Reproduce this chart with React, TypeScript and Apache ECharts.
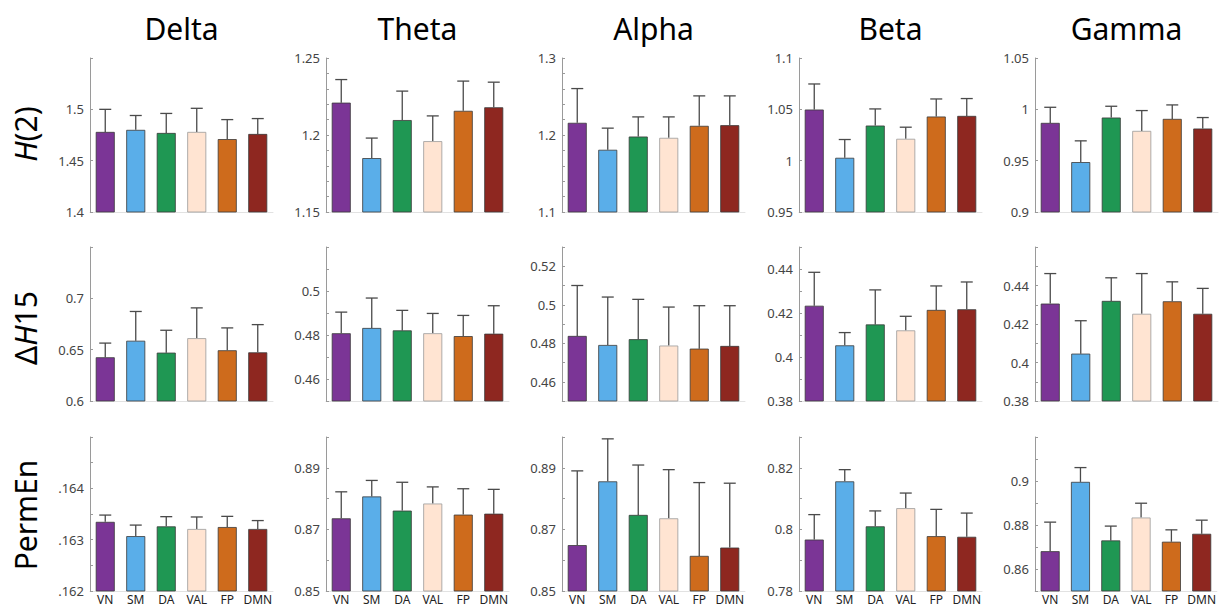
import React, { useEffect, useRef } from 'react';
import * as echarts from 'echarts';

const categories = ['VN', 'SM', 'DA', 'VAL', 'FP', 'DMN'];
const barColors = ['#7B3596', '#5AAEE9', '#1F9753', '#FFE4D2', '#CE6B1C', '#8E2720'];
const barBorders = ['#3a3a3a', '#3a3a3a', '#3a3a3a', '#9a9a9a', '#3a3a3a', '#3a3a3a'];
const bands = ['Delta', 'Theta', 'Alpha', 'Beta', 'Gamma'];

// Row 1: H(2)  (mean, and top of error bar)
const h2Delta = [1.478, 1.480, 1.477, 1.478, 1.471, 1.476];
const h2DeltaTop = [1.500, 1.494, 1.496, 1.501, 1.490, 1.491];
const h2Theta = [1.221, 1.185, 1.2097, 1.196, 1.2157, 1.218];
const h2ThetaTop = [1.236, 1.198, 1.2285, 1.2124, 1.235, 1.2343];
const h2Alpha = [1.2158, 1.1808, 1.198, 1.1963, 1.2119, 1.2127];
const h2AlphaTop = [1.2603, 1.2089, 1.2235, 1.2235, 1.2508, 1.2508];
const h2Beta = [1.0498, 1.0028, 1.0342, 1.0213, 1.043, 1.0436];
const h2BetaTop = [1.0747, 1.0206, 1.0504, 1.0326, 1.0601, 1.0605];
const h2Gamma = [0.9868, 0.9486, 0.992, 0.979, 0.9907, 0.9813];
const h2GammaTop = [1.002, 0.9693, 1.003, 0.9988, 1.0043, 0.992];

// Row 2: ΔH15
const dhDelta = [0.6426, 0.6587, 0.6471, 0.6612, 0.6494, 0.6474];
const dhDeltaTop = [0.6564, 0.6872, 0.6689, 0.6907, 0.6712, 0.6744];
const dhTheta = [0.4808, 0.4832, 0.4821, 0.4808, 0.4795, 0.4806];
const dhThetaTop = [0.4904, 0.4968, 0.4912, 0.4898, 0.4889, 0.4933];
const dhAlpha = [0.4838, 0.4791, 0.4821, 0.4788, 0.4772, 0.4786];
const dhAlphaTop = [0.510, 0.504, 0.5028, 0.4988, 0.4995, 0.4995];
const dhBeta = [0.4233, 0.4053, 0.4148, 0.4121, 0.4214, 0.4217];
const dhBetaTop = [0.4385, 0.4111, 0.4305, 0.4185, 0.4323, 0.4341];
const dhGamma = [0.4306, 0.4046, 0.432, 0.4253, 0.4318, 0.4253];
const dhGammaTop = [0.4462, 0.4217, 0.444, 0.4462, 0.4419, 0.4385];

// Row 3: PermEn
const peDelta = [0.163347, 0.163069, 0.163259, 0.163208, 0.163246, 0.163208];
const peDeltaTop = [0.163479, 0.163284, 0.163448, 0.163442, 0.163454, 0.163372];
const peTheta = [0.8736, 0.8807, 0.8761, 0.8784, 0.8748, 0.8751];
const peThetaTop = [0.8822, 0.8859, 0.8853, 0.8838, 0.8832, 0.883];
const peAlpha = [0.8649, 0.8856, 0.8747, 0.8736, 0.8614, 0.8641];
const peAlphaTop = [0.889, 0.8994, 0.8909, 0.8894, 0.8852, 0.885];
const peBeta = [0.7967, 0.8156, 0.801, 0.8069, 0.7978, 0.7976];
const peBetaTop = [0.8048, 0.8194, 0.806, 0.8118, 0.8065, 0.8053];
const peGamma = [0.8681, 0.8996, 0.873, 0.8834, 0.8724, 0.876];
const peGammaTop = [0.8813, 0.9061, 0.8795, 0.8899, 0.8778, 0.8822];

// axis ranges [min, max, step] and labelled ticks
const h2Ranges = [[1.4, 1.55, 0.05], [1.15, 1.25, 0.01], [1.1, 1.3, 0.02], [0.95, 1.1, 0.05], [0.9, 1.05, 0.05]];
const h2Ticks = [['1.4', '1.45', '1.5'], ['1.15', '1.2', '1.25'], ['1.1', '1.2', '1.3'], ['0.95', '1', '1.05', '1.1'], ['0.9', '0.95', '1', '1.05']];
const dhRanges = [[0.6, 0.75, 0.05], [0.45, 0.52, 0.01], [0.45, 0.53, 0.01], [0.38, 0.45, 0.01], [0.38, 0.46, 0.01]];
const dhTicks = [['0.6', '0.65', '0.7'], ['0.46', '0.48', '0.5'], ['0.46', '0.48', '0.5', '0.52'], ['0.38', '0.4', '0.42', '0.44'], ['0.38', '0.4', '0.42', '0.44']];
const peRanges = [[0.162, 0.165, 0.0005], [0.85, 0.9, 0.01], [0.85, 0.9, 0.01], [0.78, 0.83, 0.01], [0.85, 0.92, 0.01]];
const peTicks = [['.162', '.163', '.164'], ['0.85', '0.87', '0.89'], ['0.85', '0.87', '0.89'], ['0.78', '0.8', '0.82'], ['0.86', '0.88', '0.9']];

const rowLabels = ['{i|H}{n|(2)}', '{n|Δ}{i|H}{n|15}', '{n|PermEn}'];

const rows = [
  { means: [h2Delta, h2Theta, h2Alpha, h2Beta, h2Gamma], tops: [h2DeltaTop, h2ThetaTop, h2AlphaTop, h2BetaTop, h2GammaTop], ranges: h2Ranges, ticks: h2Ticks },
  { means: [dhDelta, dhTheta, dhAlpha, dhBeta, dhGamma], tops: [dhDeltaTop, dhThetaTop, dhAlphaTop, dhBetaTop, dhGammaTop], ranges: dhRanges, ticks: dhTicks },
  { means: [peDelta, peTheta, peAlpha, peBeta, peGamma], tops: [peDeltaTop, peThetaTop, peAlphaTop, peBetaTop, peGammaTop], ranges: peRanges, ticks: peTicks },
];

const colLefts = [90, 326, 562, 799, 1035];
const rowTops = [58, 247, 437];
const gridW = 183;
const gridH = 154;
const FONT = '"Noto Sans", "Open Sans", sans-serif';

export default function App() {
  const ref = useRef<HTMLDivElement>(null);
  useEffect(() => {
    if (!ref.current) return;
    const chart = echarts.init(ref.current, null, { renderer: 'svg' });
    const grid: any[] = [];
    const xAxis: any[] = [];
    const yAxis: any[] = [];
    const series: any[] = [];
    const graphic: any[] = [];
    let k = 0;
    rows.forEach((row, r) => {
      for (let c = 0; c < 5; c++) {
        const [mn, mx, step] = row.ranges[c];
        const labels = row.ticks[c];
        grid.push({ left: colLefts[c], top: rowTops[r], width: gridW, height: gridH, containLabel: false });
        xAxis.push({
          type: 'category', gridIndex: k, data: categories,
          axisLine: { show: true, lineStyle: { color: '#e2e2e2', width: 1 } },
          axisTick: { show: false },
          axisLabel: { show: r === 2, color: '#222', fontSize: 12, fontFamily: FONT, margin: 2, interval: 0 },
          splitLine: { show: false },
        });
        yAxis.push({
          type: 'value', gridIndex: k, min: mn, max: mx, interval: step,
          axisLine: { show: true, lineStyle: { color: '#9a9a9a', width: 1 } },
          axisTick: { show: true, inside: true, length: 3, lineStyle: { color: '#9a9a9a' } },
          splitLine: { show: false },
          axisLabel: {
            color: '#444', fontSize: 13, fontFamily: FONT, margin: 6, showMaxLabel: true, showMinLabel: true,
            formatter: (v: number) => {
              for (const l of labels) if (Math.abs(v - Number(l)) < step * 1e-3) return l;
              return '';
            },
          },
        });
        const means = row.means[c];
        const tops = row.tops[c];
        series.push({
          type: 'bar', xAxisIndex: k, yAxisIndex: k, barWidth: 19, clip: true,
          data: means.map((m, i) => ({ value: m, itemStyle: { color: barColors[i], borderColor: barBorders[i], borderWidth: 0.8 } })),
        });
        series.push({
          type: 'custom', xAxisIndex: k, yAxisIndex: k,
          encode: { x: 0, y: [1, 2] },
          data: means.map((m, i) => [i, m, tops[i]]),
          renderItem: (params: any, api: any) => {
            const idx = api.value(0);
            const p0 = api.coord([idx, api.value(1)]);
            const p1 = api.coord([idx, api.value(2)]);
            const st = { stroke: '#4a4a4a', lineWidth: 1.3 };
            return {
              type: 'group',
              children: [
                { type: 'line', shape: { x1: p0[0], y1: p0[1], x2: p1[0], y2: p1[1] }, style: st },
                { type: 'line', shape: { x1: p1[0] - 6, y1: p1[1], x2: p1[0] + 6, y2: p1[1] }, style: st },
              ],
            };
          },
        });
        k++;
      }
    });
    bands.forEach((b, c) => {
      graphic.push({
        type: 'text', x: colLefts[c] + gridW / 2, y: 28,
        style: { text: b, fontSize: 30, fontFamily: FONT, fill: '#000', align: 'center', verticalAlign: 'middle' },
      });
    });
    const rowCenters = [134, 328, 515];
    rowLabels.forEach((t, r) => {
      graphic.push({
        type: 'text', x: 25, y: rowCenters[r], rotation: Math.PI / 2,
        style: {
          text: t, align: 'center', verticalAlign: 'middle', fill: '#000',
          fontSize: 30, fontFamily: FONT,
          rich: {
            i: { fontSize: 30, fontFamily: FONT, fontStyle: 'italic', fill: '#000' },
            n: { fontSize: 30, fontFamily: FONT, fill: '#000' },
          },
        },
      });
    });
    chart.setOption({ animation: false, backgroundColor: '#fff', grid, xAxis, yAxis, series, graphic });
    return () => chart.dispose();
  }, []);
  return <div ref={ref} style={{ position: 'absolute', left: 0, top: 0, width: 1219, height: 610 }} />;
}
